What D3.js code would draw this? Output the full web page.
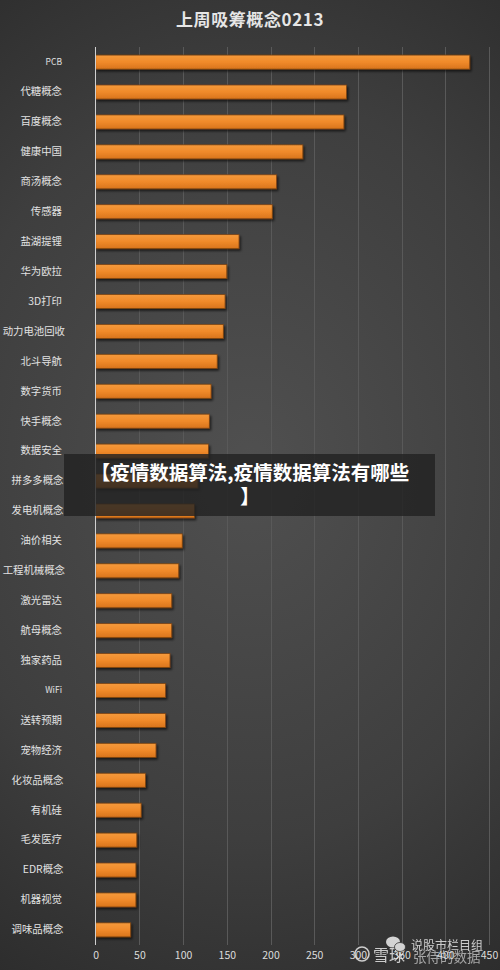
<!DOCTYPE html>
<html><head><meta charset="utf-8">
<script src="https://cdn.jsdelivr.net/npm/d3@7/dist/d3.min.js"></script>
<style>html,body{margin:0;padding:0;background:#2b2b2b;}svg{display:block;}</style>
</head><body>
<svg id="chart" width="500" height="970"></svg>
<script>
const title = "上周吸筹概念0213";
const categories = ["PCB","代糖概念","百度概念","健康中国","商汤概念","传感器","盐湖提锂","华为欧拉","3D打印","动力电池回收","北斗导航","数字货币","快手概念","数据安全","拼多多概念","发电机概念","油价相关","工程机械概念","激光雷达","航母概念","独家药品","WiFi","送转预期","宠物经济","化妆品概念","有机硅","毛发医疗","EDR概念","机器视觉","调味品概念"];
const values = [428,287,284,237,207,202,164,150,148,146,139,132,130,129,117,113,99,95,87,87,85,80,80,69,57,52,47,46,46,40];
const ticks = [0,50,100,150,200,250,300,350,400,450];
const overlayLines = ["【疫情数据算法,疫情数据算法有哪些","】"];

const W = 500, H = 970;
const svg = d3.select("#chart");
const defs = svg.append("defs");
const bg = defs.append("radialGradient").attr("id","bg").attr("cx","50%").attr("cy","48%").attr("r","70%")
  .attr("gradientTransform","translate(0.5,0.48) scale(1.6,1) translate(-0.5,-0.48)");
bg.append("stop").attr("offset","0%").attr("stop-color","#505050");
bg.append("stop").attr("offset","55%").attr("stop-color","#3e3e3e");
bg.append("stop").attr("offset","100%").attr("stop-color","#262626");
const bar = defs.append("linearGradient").attr("id","bar").attr("x1",0).attr("y1",0).attr("x2",0).attr("y2",1);
bar.append("stop").attr("offset","0%").attr("stop-color","#f59a3c");
bar.append("stop").attr("offset","50%").attr("stop-color","#f08a2a");
bar.append("stop").attr("offset","100%").attr("stop-color","#d8741c");
const sh = defs.append("filter").attr("id","sh").attr("x","-5%").attr("y","-30%").attr("width","115%").attr("height","190%");
sh.append("feDropShadow").attr("dx",1.5).attr("dy",2).attr("stdDeviation",1.2).attr("flood-color","#000").attr("flood-opacity",0.6);

svg.append("rect").attr("width",W).attr("height",H).attr("fill","url(#bg)");

const x = d3.scaleLinear().domain([0,450]).range([95.7,489]);
const y = d3.scaleBand().domain(categories).range([47,945]).paddingInner(0.53).paddingOuter(0.27);

svg.append("text").attr("x",250).attr("y",26).attr("text-anchor","middle")
  .attr("font-family","'Noto Sans CJK SC'").attr("font-weight","bold").attr("font-size",17)
  .attr("fill","#e6e6e6").attr("letter-spacing",0.6).text(title);

// grid
svg.append("g").selectAll("line").data(ticks.slice(1)).join("line")
  .attr("x1",d=>Math.round(x(d))+0.5).attr("x2",d=>Math.round(x(d))+0.5)
  .attr("y1",47).attr("y2",945).attr("stroke","#595959").attr("stroke-width",1);

// bars
svg.append("g").selectAll("rect").data(categories).join("rect")
  .attr("x",x(0)).attr("y",d=>y(d)).attr("width",(d,i)=>x(values[i])-x(0))
  .attr("height",y.bandwidth()).attr("fill","url(#bar)")
  .attr("stroke","#7a4212").attr("stroke-width",0.8).attr("filter","url(#sh)");

// zero axis line
svg.append("line").attr("x1",95.5).attr("x2",95.5).attr("y1",47).attr("y2",945).attr("stroke","#d0d0d0").attr("stroke-width",1);

// y labels
const yAxis = d3.axisLeft(y).tickSize(0).tickPadding(0);
const gy = svg.append("g").attr("transform","translate(63,0)").call(yAxis);
gy.select(".domain").remove();
gy.selectAll("text").attr("font-family","'Noto Sans CJK SC'")
  .attr("font-size",d=>/^[A-Za-z0-9]+$/.test(d)?8.5:10.4)
  .attr("x",d=>d.length>=6?2:(d.length===5?0.5:-1))
  .attr("fill","#e2e2e2");

// x labels
const xAxis = d3.axisBottom(x).tickValues(ticks).tickSize(0).tickPadding(0);
const gx = svg.append("g").attr("transform","translate(0,952)").call(xAxis);
gx.select(".domain").remove();
gx.selectAll("text").attr("font-family","'Noto Sans CJK SC'").attr("font-size",10.5).attr("fill","#dcdcdc");

// watermark
const wm = svg.append("g").attr("opacity",0.85);
wm.append("circle").attr("cx",362).attr("cy",954).attr("r",7).attr("fill","none").attr("stroke","#e8e8e8").attr("stroke-width",1.6);
wm.append("text").attr("x",373).attr("y",961).attr("font-family","'Noto Sans CJK SC'").attr("font-size",16).attr("fill","#e8e8e8").text("雪球");
wm.append("ellipse").attr("cx",393).attr("cy",942).attr("rx",7).attr("ry",5.5).attr("fill","#f0f0f0");
wm.append("ellipse").attr("cx",400).attr("cy",947).attr("rx",5.5).attr("ry",4.5).attr("fill","#f0f0f0").attr("stroke","#333").attr("stroke-width",0.8);
wm.append("text").attr("x",411).attr("y",950).attr("font-family","'Noto Sans CJK SC'").attr("font-size",12).attr("fill","#e8e8e8").text("说股市栏目组");
wm.append("text").attr("x",413).attr("y",962).attr("font-family","'Noto Sans CJK SC'").attr("font-size",13.5).attr("fill","#e8e8e8").attr("opacity",0.75).text("张侍的数据");

// overlay banner
svg.append("rect").attr("x",64).attr("y",454).attr("width",371).attr("height",62).attr("fill","#222").attr("opacity",0.82);
svg.append("g").selectAll("text").data(overlayLines).join("text")
  .attr("x",250).attr("y",(d,i)=>480+i*24).attr("text-anchor","middle")
  .attr("font-family","'Noto Sans CJK SC'").attr("font-weight","bold").attr("font-size",19.5)
  .attr("fill","#ffffff").text(d=>d);
</script>
</body></html>
